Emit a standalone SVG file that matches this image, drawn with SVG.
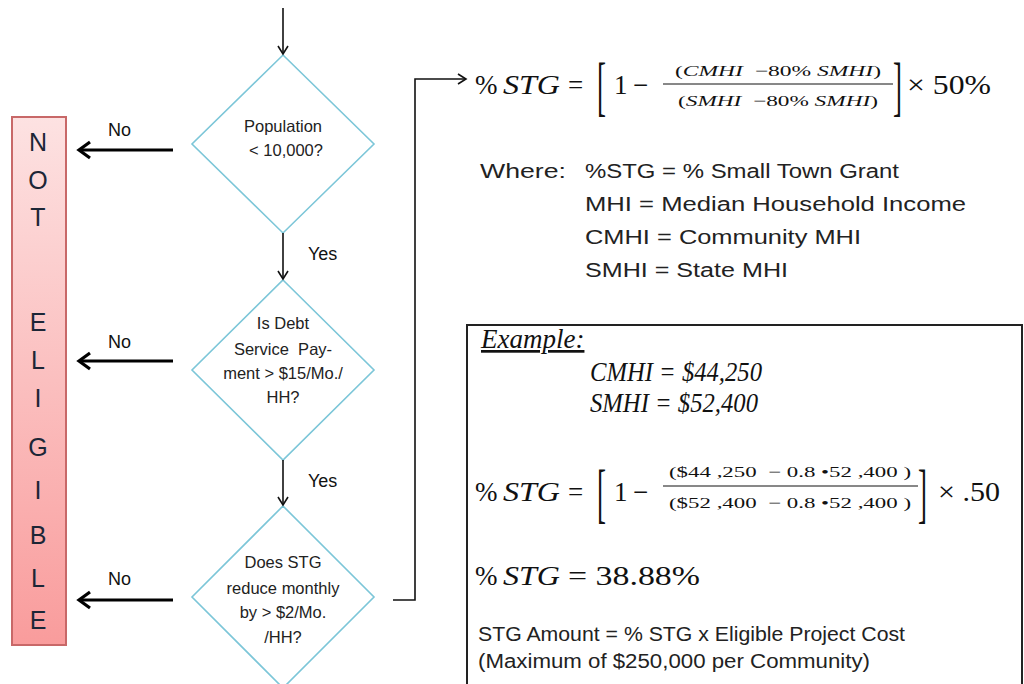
<svg xmlns="http://www.w3.org/2000/svg" width="1024" height="684" viewBox="0 0 1024 684">
<defs>
<linearGradient id="pink" x1="0" y1="0" x2="0" y2="1">
<stop offset="0" stop-color="#fde2e2"/>
<stop offset="1" stop-color="#f99c9c"/>
</linearGradient>
<marker id="thin" markerWidth="12" markerHeight="12" refX="9" refY="6" orient="auto" markerUnits="userSpaceOnUse">
<path d="M1,1 L9,6 L1,11" fill="none" stroke="#111" stroke-width="1.6"/>
</marker>
<marker id="thick" markerWidth="20" markerHeight="20" refX="14" refY="10" orient="auto" markerUnits="userSpaceOnUse">
<path d="M3,2 L14,10 L3,18" fill="none" stroke="#000" stroke-width="3.2"/>
</marker>
</defs>
<style>
.dia{fill:#fff;stroke:#7cc6d8;stroke-width:1.6}
.dt{font-family:"Liberation Sans",Arial,sans-serif;font-size:16.5px;fill:#222;text-anchor:middle}
.lbl{font-family:"Liberation Sans",Arial,sans-serif;font-size:18px;fill:#111}
.ne{font-family:"Liberation Sans",Arial,sans-serif;font-size:25px;fill:#1c2636;text-anchor:middle}
.txt{font-family:"Liberation Sans",Arial,sans-serif;font-size:20px;fill:#222}
.math{font-family:"Liberation Serif","Times New Roman",serif;font-size:27px;fill:#111}
.sm{font-family:"Liberation Serif","Times New Roman",serif;font-size:15px;fill:#111;text-anchor:middle}
.it{font-style:italic}
.conn{fill:none;stroke:#111;stroke-width:1.6}
.no{fill:none;stroke:#000;stroke-width:3.2}
</style>

<g id="not-eligible">
<rect x="12" y="117" width="54" height="528" fill="url(#pink)" stroke="#c86868" stroke-width="2"/>
<text class="ne" x="38" y="151">N</text>
<text class="ne" x="38" y="189">O</text>
<text class="ne" x="38" y="226">T</text>
<text class="ne" x="38" y="331">E</text>
<text class="ne" x="38" y="369">L</text>
<text class="ne" x="38" y="407">I</text>
<text class="ne" x="38" y="456">G</text>
<text class="ne" x="38" y="499">I</text>
<text class="ne" x="38" y="544">B</text>
<text class="ne" x="38" y="587">L</text>
<text class="ne" x="38" y="629">E</text>
</g>

<g id="population">
<polygon class="dia" points="283,55 374,144 283,233 192,144"/>
<text class="dt" x="283" y="132">Population</text>
<text class="dt" x="286" y="156">&lt; 10,000?</text>
</g>

<g id="debt">
<polygon class="dia" points="283,280 374,370 283,460 192,370"/>
<text class="dt" x="283" y="329">Is Debt</text>
<text class="dt" x="283" y="355" xml:space="preserve">Service  Pay-</text>
<text class="dt" x="283" y="379">ment &gt; $15/Mo./</text>
<text class="dt" x="283" y="403">HH?</text>
</g>

<g id="reduce">
<polygon class="dia" points="283,506 374,597 283,688 192,597"/>
<text class="dt" x="283" y="568">Does STG</text>
<text class="dt" x="283" y="594">reduce monthly</text>
<text class="dt" x="283" y="618">by &gt; $2/Mo.</text>
<text class="dt" x="283" y="643">/HH?</text>
</g>

<g id="connectors">
<line class="conn" x1="283" y1="8" x2="283" y2="54" marker-end="url(#thin)"/>
<line class="conn" x1="283" y1="233" x2="283" y2="279" marker-end="url(#thin)"/>
<line class="conn" x1="283" y1="460" x2="283" y2="505" marker-end="url(#thin)"/>
<path class="conn" d="M393,600 H415 V79 H466" marker-end="url(#thin)"/>
<line class="no" x1="173" y1="150" x2="79" y2="150" marker-end="url(#thick)"/>
<line class="no" x1="173" y1="361" x2="79" y2="361" marker-end="url(#thick)"/>
<line class="no" x1="173" y1="600" x2="79" y2="600" marker-end="url(#thick)"/>
<text class="lbl" x="108" y="136">No</text>
<text class="lbl" x="108" y="348">No</text>
<text class="lbl" x="108" y="585">No</text>
<text class="lbl" x="308" y="260">Yes</text>
<text class="lbl" x="308" y="487">Yes</text>
</g>

<g id="formula">
<text class="math" x="475" y="94">%</text>
<text class="math it" x="503" y="94" textLength="57" lengthAdjust="spacingAndGlyphs">STG</text>
<text class="math" x="568" y="94">=</text>
<text class="math" transform="translate(597,108) scale(1,2.4)" font-size="26">[</text>
<text class="math" x="614" y="94">1</text>
<text class="math" x="633" y="94">−</text>
<line x1="663" y1="84" x2="893" y2="84" stroke="#111" stroke-width="1"/>
<text class="sm" x="778" y="76" textLength="206" lengthAdjust="spacingAndGlyphs" xml:space="preserve">(<tspan class="it">CMHI</tspan>  −80% <tspan class="it">SMHI</tspan>)</text>
<text class="sm" x="778" y="106" textLength="200" lengthAdjust="spacingAndGlyphs" xml:space="preserve">(<tspan class="it">SMHI</tspan>  −80% <tspan class="it">SMHI</tspan>)</text>
<text class="math" transform="translate(893,108) scale(1,2.4)" font-size="26">]</text>
<text class="math" x="907" y="94" textLength="84" lengthAdjust="spacingAndGlyphs">× 50%</text>
</g>

<g id="where">
<text class="txt" x="480" y="178" textLength="86" lengthAdjust="spacingAndGlyphs">Where:</text>
<text class="txt" x="585" y="178" textLength="314" lengthAdjust="spacingAndGlyphs">%STG = % Small Town Grant</text>
<text class="txt" x="585" y="211" textLength="381" lengthAdjust="spacingAndGlyphs">MHI = Median Household Income</text>
<text class="txt" x="585" y="244" textLength="276" lengthAdjust="spacingAndGlyphs">CMHI = Community MHI</text>
<text class="txt" x="585" y="277" textLength="203" lengthAdjust="spacingAndGlyphs">SMHI = State MHI</text>
</g>

<g id="example">
<rect x="467" y="325" width="555" height="380" fill="none" stroke="#222" stroke-width="2"/>
<text class="math it" x="481" y="348" font-size="17" text-decoration="underline">Example:</text>
<text class="math it" x="590" y="381" font-size="21" textLength="172" lengthAdjust="spacingAndGlyphs">CMHI = $44,250</text>
<text class="math it" x="590" y="412" font-size="21" textLength="168" lengthAdjust="spacingAndGlyphs">SMHI = $52,400</text>

<text class="math" x="475" y="501">%</text>
<text class="math it" x="503" y="501" textLength="57" lengthAdjust="spacingAndGlyphs">STG</text>
<text class="math" x="568" y="501">=</text>
<text class="math" transform="translate(597,515) scale(1,2.4)" font-size="26">[</text>
<text class="math" x="614" y="501">1</text>
<text class="math" x="633" y="501">−</text>
<line x1="663" y1="486" x2="918" y2="486" stroke="#111" stroke-width="1"/>
<text class="sm" x="790" y="477" textLength="242" lengthAdjust="spacingAndGlyphs" xml:space="preserve">($44 ,250  − 0.8 •52 ,400 )</text>
<text class="sm" x="790" y="508" textLength="242" lengthAdjust="spacingAndGlyphs" xml:space="preserve">($52 ,400  − 0.8 •52 ,400 )</text>
<text class="math" transform="translate(918,515) scale(1,2.4)" font-size="26">]</text>
<text class="math" x="938" y="501" textLength="62" lengthAdjust="spacingAndGlyphs">× .50</text>

<text class="math" x="475" y="585">%</text>
<text class="math it" x="503" y="585" textLength="57" lengthAdjust="spacingAndGlyphs">STG</text>
<text class="math" x="568" y="585" textLength="132" lengthAdjust="spacingAndGlyphs">= 38.88%</text>

<text class="txt" x="478" y="641" font-size="18" textLength="427" lengthAdjust="spacingAndGlyphs">STG Amount = % STG x Eligible Project Cost</text>
<text class="txt" x="478" y="668" font-size="18" textLength="392" lengthAdjust="spacingAndGlyphs">(Maximum of $250,000 per Community)</text>
</g>
</svg>
